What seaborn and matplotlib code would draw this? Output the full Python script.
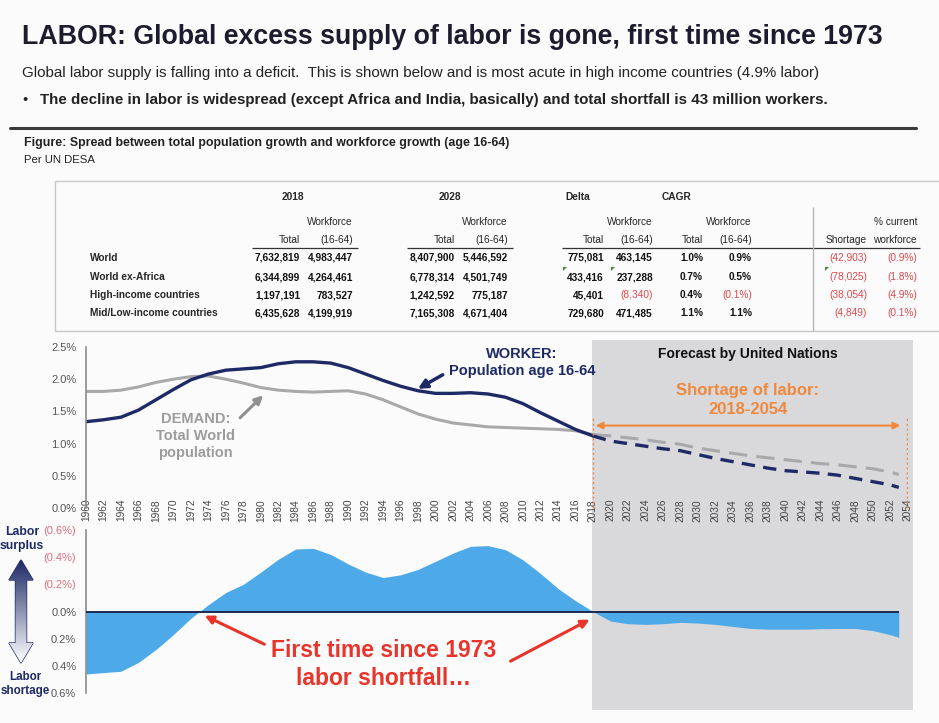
# Labor supply chart: population growth vs workforce growth, with spread panel
import numpy as np
import seaborn as sns
import matplotlib.pyplot as plt
import matplotlib.transforms as mtransforms
from matplotlib.patches import Rectangle, Polygon
from matplotlib.colors import LinearSegmentedColormap

sns.set_theme(style="white")
plt.rcParams['font.family'] = ['Liberation Sans', 'DejaVu Sans']

# ---- chart data (growth rates, %) ----
hist_years = list(range(1960, 2019, 2))
worker_hist = [1.34, 1.37, 1.41, 1.52, 1.68, 1.84, 1.99, 2.08, 2.14, 2.16,
               2.18, 2.24, 2.27, 2.27, 2.25, 2.18, 2.08, 1.98, 1.89, 1.82,
               1.78, 1.78, 1.79, 1.77, 1.72, 1.62, 1.48, 1.35, 1.22, 1.12]
demand_hist = [1.81, 1.81, 1.83, 1.88, 1.95, 2.00, 2.04, 2.05, 2.00, 1.94,
               1.87, 1.83, 1.81, 1.80, 1.81, 1.82, 1.77, 1.68, 1.57, 1.46,
               1.38, 1.32, 1.29, 1.26, 1.25, 1.24, 1.23, 1.22, 1.20, 1.14]

fc_years = list(range(2018, 2053, 2)) + [2053]
worker_fc = [1.12, 1.04, 1.00, 0.96, 0.92, 0.89, 0.83, 0.77, 0.72, 0.67,
             0.62, 0.58, 0.56, 0.54, 0.51, 0.46, 0.41, 0.36, 0.32]
demand_fc = [1.14, 1.12, 1.09, 1.06, 1.02, 0.99, 0.93, 0.89, 0.85, 0.81,
             0.78, 0.75, 0.72, 0.69, 0.67, 0.64, 0.61, 0.56, 0.52]

spread_years = hist_years + fc_years[1:]
spread = [-0.46, -0.45, -0.44, -0.375, -0.28, -0.17, -0.05, 0.05, 0.14, 0.20,
          0.29, 0.385, 0.46, 0.465, 0.42, 0.35, 0.29, 0.25, 0.27, 0.31,
          0.37, 0.43, 0.48, 0.485, 0.455, 0.38, 0.28, 0.17, 0.08, 0.0,
          -0.07, -0.09, -0.095, -0.09, -0.08, -0.085, -0.095, -0.11, -0.125,
          -0.13, -0.13, -0.13, -0.127, -0.125, -0.125, -0.14, -0.17, -0.19]

tick_years = list(range(1960, 2055, 2))
top_yticks = [0.0, 0.5, 1.0, 1.5, 2.0, 2.5]
bot_yticks = [-0.6, -0.4, -0.2, 0.0, 0.2, 0.4, 0.6]
bot_ylabels = ['0.6%', '0.4%', '0.2%', '0.0%', '(0.2%)', '(0.4%)', '(0.6%)']

# ---- table data ----
table_rows = ['World', 'World ex-Africa', 'High-income countries', 'Mid/Low-income countries']
tot_2018 = [7632819, 6344899, 1197191, 6435628]
wf_2018 = [4983447, 4264461, 783527, 4199919]
tot_2028 = [8407900, 6778314, 1242592, 7165308]
wf_2028 = [5446592, 4501749, 775187, 4671404]
delta_tot = [775081, 433416, 45401, 729680]
delta_wf = [463145, 237288, -8340, 471485]
cagr_tot = [1.0, 0.7, 0.4, 1.1]
cagr_wf = [0.9, 0.5, -0.1, 1.1]
shortage = [-42903, -78025, -38054, -4849]
pct_current = [-0.9, -1.8, -4.9, -0.1]

navy = '#1d2a66'
gray_line = '#a9a9a9'
fill_blue = '#4ea9e8'
forecast_bg = '#d9d9dc'
orange = '#f0883c'
red = '#e8342a'
red_num = '#e0474c'

W, H = 939, 723
fig = plt.figure(figsize=(W / 100, H / 100), dpi=100, facecolor='#fbfbfb')

# background layer in pixel coordinates for slide text / table
bg = fig.add_axes([0, 0, 1, 1], zorder=-5)
bg.set_xlim(0, W)
bg.set_ylim(H, 0)
bg.axis('off')

bg.text(22, 37, 'LABOR: Global excess supply of labor is gone, first time since 1973',
        fontsize=19.3, fontweight='bold', color='#1c1c2e', va='center')
bg.text(22, 73, 'Global labor supply is falling into a deficit.  This is shown below and is most '
        'acute in high income countries (4.9% labor)', fontsize=10.9, color='#222222', va='center')
bg.text(22, 100, '\u2022', fontsize=10.5, color='#222222', va='center')
bg.text(40, 100, 'The decline in labor is widespread (except Africa and India, basically) and '
        'total shortfall is 43 million workers.', fontsize=10.9, fontweight='bold',
        color='#222222', va='center')
bg.plot([10, 916], [128, 128], color='#3a3a3a', lw=2.2)
bg.text(24, 143, 'Figure: Spread between total population growth and workforce growth (age 16-64)',
        fontsize=8.9, fontweight='bold', color='#222222', va='center')
bg.text(24, 160, 'Per UN DESA', fontsize=8.2, color='#222222', va='center')

# ---- table ----
bg.add_patch(Rectangle((55, 181), 900, 150, fill=False, edgecolor='#c8c8c8', lw=1))
col_x = [300, 353, 455, 508, 604, 653, 703, 752, 867, 917]
row_y = [258, 277, 295, 313]
tfs = 7.3


def fmt_int(v):
    return '({:,})'.format(-v) if v < 0 else '{:,}'.format(v)


def fmt_pct(v):
    return '({:.1f}%)'.format(-v) if v < 0 else '{:.1f}%'.format(v)


bg.text(293, 197, '2018', fontsize=tfs, fontweight='bold', ha='center', va='center')
bg.text(450, 197, '2028', fontsize=tfs, fontweight='bold', ha='center', va='center')
bg.text(565, 197, 'Delta', fontsize=tfs, fontweight='bold', ha='left', va='center')
bg.text(662, 197, 'CAGR', fontsize=tfs, fontweight='bold', ha='left', va='center')
for tx, wx in [(col_x[0], col_x[1]), (col_x[2], col_x[3]), (col_x[4], col_x[5]), (col_x[6], col_x[7])]:
    bg.text(wx, 222, 'Workforce', fontsize=tfs, ha='right', va='center')
    bg.text(tx, 240, 'Total', fontsize=tfs, ha='right', va='center')
    bg.text(wx, 240, '(16-64)', fontsize=tfs, ha='right', va='center')
bg.text(col_x[9], 222, '% current', fontsize=tfs, ha='right', va='center')
bg.text(col_x[8], 240, 'Shortage', fontsize=tfs, ha='right', va='center')
bg.text(col_x[9], 240, 'workforce', fontsize=tfs, ha='right', va='center')
bg.hlines([248, 248, 248], [252, 407, 562], [358, 513, 920], color='#333333', lw=0.9)
bg.vlines(813, 207, 331, color='#b5b5b5', lw=1)

columns = [(tot_2018, fmt_int), (wf_2018, fmt_int), (tot_2028, fmt_int), (wf_2028, fmt_int),
           (delta_tot, fmt_int), (delta_wf, fmt_int), (cagr_tot, fmt_pct), (cagr_wf, fmt_pct),
           (shortage, fmt_int), (pct_current, fmt_pct)]
for i, label in enumerate(table_rows):
    bg.text(90, row_y[i], label, fontsize=tfs, fontweight='bold', va='center')
    for j, (vals, fmt) in enumerate(columns):
        v = vals[i]
        neg = v < 0
        bg.text(col_x[j], row_y[i], fmt(v), fontsize=tfs, ha='right', va='center',
                color=red_num if neg else '#111111',
                fontweight='normal' if neg else 'bold')
# excel comment markers
for mx in [563, 611, 825]:
    bg.add_patch(Polygon([(mx, 267), (mx + 4, 267), (mx, 271)], color='#3f8f3f', lw=0))

# ---- gradient double arrow on the left ----
cx = 21
arrow_pts = [(cx, 560), (cx + 12, 580), (cx + 5.5, 580), (cx + 5.5, 643), (cx + 12, 643),
             (cx, 663), (cx - 12, 643), (cx - 5.5, 643), (cx - 5.5, 580), (cx - 12, 580)]
arrow_poly = Polygon(arrow_pts, closed=True, facecolor='none', edgecolor=navy, lw=1)
bg.add_patch(arrow_poly)
grad = np.linspace(0, 1, 100).reshape(-1, 1)
cmap = LinearSegmentedColormap.from_list('navyfade', [navy, '#ffffff'])
im = bg.imshow(grad, cmap=cmap, extent=(cx - 12, cx + 12, 663, 560), aspect='auto',
               origin='upper', zorder=1)
im.set_clip_path(arrow_poly)
bg.set_xlim(0, W)
bg.set_ylim(H, 0)
bg.text(cx + 1, 539, 'Labor\nsurplus', fontsize=8.8, fontweight='bold', color=navy,
        ha='center', va='center', linespacing=1.15)
bg.text(cx + 4, 684, 'Labor\nshortage', fontsize=8.4, fontweight='bold', color=navy,
        ha='center', va='center', linespacing=1.15)

# ---- top chart: growth rates ----
ax_top = fig.add_axes([86 / W, 1 - 508 / H, (907.5 - 86) / W, (508 - 347) / H])
ax_top.set_facecolor('none')
sns.lineplot(x=hist_years, y=demand_hist, ax=ax_top, color=gray_line, lw=2.2)
sns.lineplot(x=hist_years, y=worker_hist, ax=ax_top, color=navy, lw=2.4)
sns.lineplot(x=fc_years, y=demand_fc, ax=ax_top, color=gray_line, lw=2.2,
             linestyle=(0, (6, 3)))
sns.lineplot(x=fc_years, y=worker_fc, ax=ax_top, color=navy, lw=2.4,
             linestyle=(0, (4, 2.5)))
ax_top.set_xlim(1960, 2054)
ax_top.set_ylim(0, 2.5)

# forecast shading spans both panels
blend = mtransforms.blended_transform_factory(ax_top.transData, fig.transFigure)
ax_top.add_patch(Rectangle((2017.9, 1 - 710 / H), 36.7, 370 / H, transform=blend,
                           facecolor=forecast_bg, edgecolor='none', zorder=0, clip_on=False))

ax_top.set_xticks(tick_years)
ax_top.set_xticklabels([str(y) for y in tick_years], rotation=90, fontsize=7.3, color='#444444')
ax_top.set_yticks(top_yticks)
ax_top.set_yticklabels(['{:.1f}%'.format(v) for v in top_yticks], fontsize=8, color='#555555')
ax_top.tick_params(axis='x', length=0, pad=-6.5)
ax_top.tick_params(axis='y', length=0, pad=7)
for s in ['top', 'right', 'bottom']:
    ax_top.spines[s].set_visible(False)
ax_top.spines['left'].set_color('#8c8c8c')
ax_top.spines['left'].set_linewidth(1.2)
ax_top.set_xlabel('')
ax_top.set_ylabel('')

ax_top.text(2009.9, 2.26, 'WORKER:\nPopulation age 16-64', fontsize=10.5, fontweight='bold',
            color=navy, ha='center', va='center', linespacing=1.2)
ax_top.annotate('', xy=(1997.7, 1.83), xytext=(2001.1, 2.09),
                arrowprops=dict(arrowstyle='-|>', color=navy, lw=2.5, mutation_scale=13))
ax_top.text(1972.5, 1.12, 'DEMAND:\nTotal World\npopulation', fontsize=10.5, fontweight='bold',
            color='#9c9c9c', ha='center', va='center', linespacing=1.25)
ax_top.annotate('', xy=(1980.5, 1.78), xytext=(1977.4, 1.37),
                arrowprops=dict(arrowstyle='-|>', color='#8f8f8f', lw=2.2, mutation_scale=12))
ax_top.text(2035.7, 2.39, 'Forecast by United Nations', fontsize=10, fontweight='bold',
            color='#111111', ha='center', va='center')
ax_top.text(2035.7, 1.68, 'Shortage of labor:\n2018-2054', fontsize=12, fontweight='bold',
            color=orange, ha='center', va='center', linespacing=1.3)
ax_top.annotate('', xy=(2053.5, 1.28), xytext=(2018, 1.28),
                arrowprops=dict(arrowstyle='<|-|>', color=orange, lw=1.5, mutation_scale=10))
ax_top.vlines([2018, 2054], 0, 1.41, color=orange, lw=1, linestyles=(0, (1.5, 2)))

# ---- bottom chart: spread ----
ax_bot = fig.add_axes([86 / W, 1 - 693 / H, (907.5 - 86) / W, (693 - 530) / H])
ax_bot.set_facecolor('none')
ax_bot.fill_between(spread_years, spread, 0, color=fill_blue, lw=0, zorder=2)
ax_bot.hlines(0, spread_years[0], spread_years[-1], color='#1a2a50', lw=1.4, zorder=3)
ax_bot.set_xlim(1960, 2054)
ax_bot.set_ylim(-0.6, 0.6)
ax_bot.set_xticks([])
ax_bot.set_yticks(bot_yticks)
ax_bot.set_yticklabels(bot_ylabels, fontsize=8)
for lbl, v in zip(ax_bot.get_yticklabels(), bot_yticks):
    lbl.set_color('#e07080' if v > 0 else '#555555')
ax_bot.tick_params(axis='y', length=0, pad=7)
for s in ['top', 'right', 'bottom']:
    ax_bot.spines[s].set_visible(False)
ax_bot.spines['left'].set_color('#8c8c8c')
ax_bot.spines['left'].set_linewidth(1.2)

ax_bot.text(1994.1, -0.39, 'First time since 1973\nlabor shortfall\u2026', fontsize=16.5,
            fontweight='bold', color=red, ha='center', va='center', linespacing=1.3)
ax_bot.annotate('', xy=(1973.3, -0.022), xytext=(1980.7, -0.25),
                arrowprops=dict(arrowstyle='-|>', color=red, lw=2.2, mutation_scale=12))
ax_bot.annotate('', xy=(2017.9, -0.05), xytext=(2008.3, -0.375),
                arrowprops=dict(arrowstyle='-|>', color=red, lw=2.2, mutation_scale=12))

fig.savefig('out.png', dpi=100, facecolor=fig.get_facecolor())
